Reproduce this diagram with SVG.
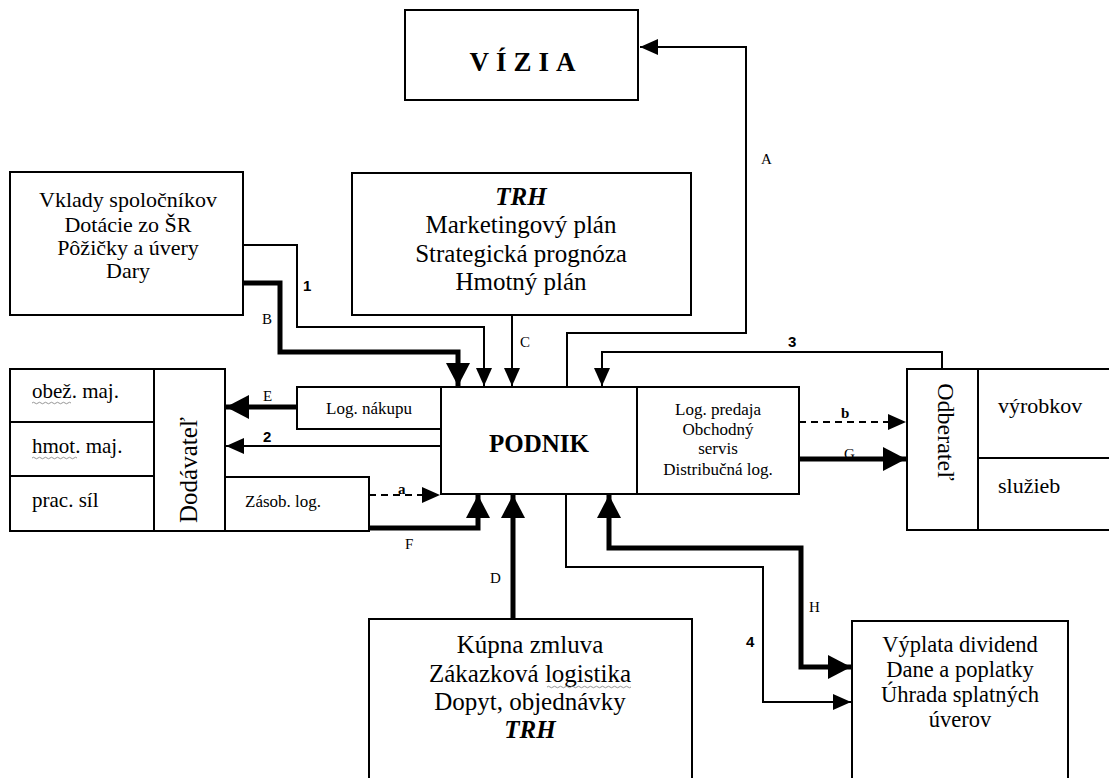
<svg xmlns="http://www.w3.org/2000/svg" width="1109" height="778" viewBox="0 0 1109 778" font-family="Liberation Serif, serif">
<style>
.box{fill:#fff;stroke:#000;stroke-width:2}
.thin{fill:none;stroke:#000;stroke-width:2}
.thick{fill:none;stroke:#000;stroke-width:5}
.dash{fill:none;stroke:#000;stroke-width:2;stroke-dasharray:7,5}
.wave{fill:none;stroke:#8a8a8a;stroke-width:0.9}
</style>
<defs>
<marker id="at" markerUnits="userSpaceOnUse" markerWidth="19" markerHeight="17" refX="18" refY="8" orient="auto-start-reverse"><path d="M0,0 L18,8 L0,16 z" fill="#000"/></marker>
<marker id="ak" markerUnits="userSpaceOnUse" markerWidth="24" markerHeight="25" refX="23" refY="12" orient="auto-start-reverse"><path d="M0,0 L23,12 L0,24 z" fill="#000"/></marker>
</defs>
<rect width="1109" height="778" fill="#fff"/>
<g id="connectors">
<path class="thin" d="M567,386 V333 H746 V47 H640" marker-end="url(#at)"/>
<path class="thin" d="M512,315 V386" marker-end="url(#at)"/>
<path class="thin" d="M942,369 V352 H602 V386" marker-end="url(#at)"/>
<path class="thin" d="M243,245 H297 V327 H484 V386" marker-end="url(#at)"/>
<path class="thick" d="M243,283 H280 V352 H458 V386" marker-end="url(#ak)"/>
<path class="thick" d="M297,407 H226" marker-end="url(#ak)"/>
<path class="thin" d="M441,446 H226" marker-end="url(#at)"/>
<path class="dash" d="M369,495 H440" marker-end="url(#at)"/>
<path class="thick" d="M369,528 H478 V495" marker-end="url(#ak)"/>
<path class="thick" d="M513,619 V495" marker-end="url(#ak)"/>
<path class="thick" d="M609,495 V548 H801 V667 H851" marker-start="url(#ak)" marker-end="url(#ak)"/>
<path class="thin" d="M566,494 V567 H763 V702 H851" marker-end="url(#at)"/>
<path class="dash" d="M799,422 H906" marker-end="url(#at)"/>
<path class="thick" d="M799,459 H906" marker-end="url(#ak)"/>
<g font-size="15" fill="#000">
<text x="761" y="164">A</text>
<text x="520" y="347">C</text>
<text x="262" y="324">B</text>
<text x="263" y="401">E</text>
<text x="398" y="494" font-weight="bold">a</text>
<text x="405" y="549">F</text>
<text x="490" y="583">D</text>
<text x="809" y="612">H</text>
<text x="841" y="418" font-weight="bold">b</text>
<text x="844" y="459">G</text>
</g>
<g font-size="15" font-family="Liberation Sans, sans-serif" font-weight="bold" fill="#000">
<text x="788" y="347">3</text>
<text x="303" y="291">1</text>
<text x="263" y="442">2</text>
<text x="746" y="647">4</text>
</g>
</g>
<g id="vizia">
<rect class="box" x="405" y="10" width="233" height="90"/>
<text x="526" y="71" font-size="27" font-weight="bold" text-anchor="middle" letter-spacing="7">VÍZIA</text>
</g>
<g id="trh" font-size="25" text-anchor="middle">
<rect class="box" x="352" y="173" width="339" height="142"/>
<text x="521" y="205" font-weight="bold" font-style="italic">TRH</text>
<text x="521" y="233">Marketingový plán</text>
<text x="521" y="262">Strategická prognóza</text>
<text x="521" y="290">Hmotný plán</text>
</g>
<g id="zdroje" font-size="22" text-anchor="middle">
<rect class="box" x="10" y="172" width="233" height="143"/>
<text x="128" y="207">Vklady spoločníkov</text>
<text x="128" y="232">Dotácie zo ŠR</text>
<text x="128" y="255">Pôžičky a úvery</text>
<text x="128" y="278">Dary</text>
</g>
<g id="dodavatel" font-size="21">
<rect class="box" x="10" y="369" width="215" height="162"/>
<line class="thin" x1="154" y1="369" x2="154" y2="531"/>
<line class="thin" x1="10" y1="422" x2="154" y2="422"/>
<line class="thin" x1="10" y1="476" x2="154" y2="476"/>
<text x="32" y="398">obež. maj.</text>
<path class="wave" d="M32,403 q1.5,-1.5 3,0 t3,0 t3,0 t3,0 t3,0 t3,0 t3,0 t3,0 t3,0 t3,0 t3,0 t3,0 t3,0"/>
<text x="32" y="453">hmot. maj.</text>
<path class="wave" d="M32,458 q1.5,-1.5 3,0 t3,0 t3,0 t3,0 t3,0 t3,0 t3,0 t3,0 t3,0 t3,0 t3,0 t3,0 t3,0 t3,0 t3,0"/>
<text x="32" y="507">prac. síl</text>
<text x="0" y="0" font-size="25" text-anchor="middle" transform="translate(197,470) rotate(-90)">Dodávateľ</text>
</g>
<g id="lognakupu" font-size="17">
<rect class="box" x="297" y="387" width="144" height="42"/>
<text x="369" y="414" text-anchor="middle">Log. nákupu</text>
</g>
<g id="zasob" font-size="17">
<rect class="box" x="225" y="477" width="144" height="54"/>
<text x="245" y="507">Zásob. log.</text>
</g>
<g id="podnik">
<rect class="box" x="441" y="387" width="196" height="107"/>
<text x="539" y="452" font-size="25" font-weight="bold" text-anchor="middle">PODNIK</text>
</g>
<g id="logpredaja" font-size="17" text-anchor="middle">
<rect class="box" x="637" y="387" width="162" height="107"/>
<text x="718" y="415">Log. predaja</text>
<text x="718" y="435">Obchodný</text>
<text x="718" y="454">servis</text>
<text x="718" y="475">Distribučná log.</text>
</g>
<g id="odberatel" font-size="22">
<rect class="box" x="907" y="369" width="210" height="161"/>
<line class="thin" x1="978" y1="369" x2="978" y2="530"/>
<line class="thin" x1="978" y1="458" x2="1109" y2="458"/>
<text x="0" y="0" font-size="24" text-anchor="middle" transform="translate(938,432) rotate(90)">Odberateľ</text>
<text x="998" y="413">výrobkov</text>
<text x="998" y="493">služieb</text>
</g>
<g id="kupna" font-size="25" text-anchor="middle">
<rect class="box" x="369" y="619" width="323" height="170"/>
<text x="530" y="653">Kúpna zmluva</text>
<text x="530" y="682">Zákazková logistika</text>
<path class="wave" d="M547,687 q1.5,-1.5 3,0 t3,0 t3,0 t3,0 t3,0 t3,0 t3,0 t3,0 t3,0 t3,0 t3,0 t3,0 t3,0 t3,0 t3,0 t3,0 t3,0 t3,0 t3,0 t3,0 t3,0 t3,0 t3,0 t3,0 t3,0 t3,0 t3,0 t3,0"/>
<text x="530" y="710">Dopyt, objednávky</text>
<text x="530" y="738" font-weight="bold" font-style="italic">TRH</text>
</g>
<g id="vyplata" font-size="22.5" text-anchor="middle">
<rect class="box" x="852" y="621" width="216" height="170"/>
<text x="960" y="652">Výplata dividend</text>
<text x="960" y="677">Dane a poplatky</text>
<text x="960" y="702">Úhrada splatných</text>
<text x="960" y="727">úverov</text>
</g>
</svg>
